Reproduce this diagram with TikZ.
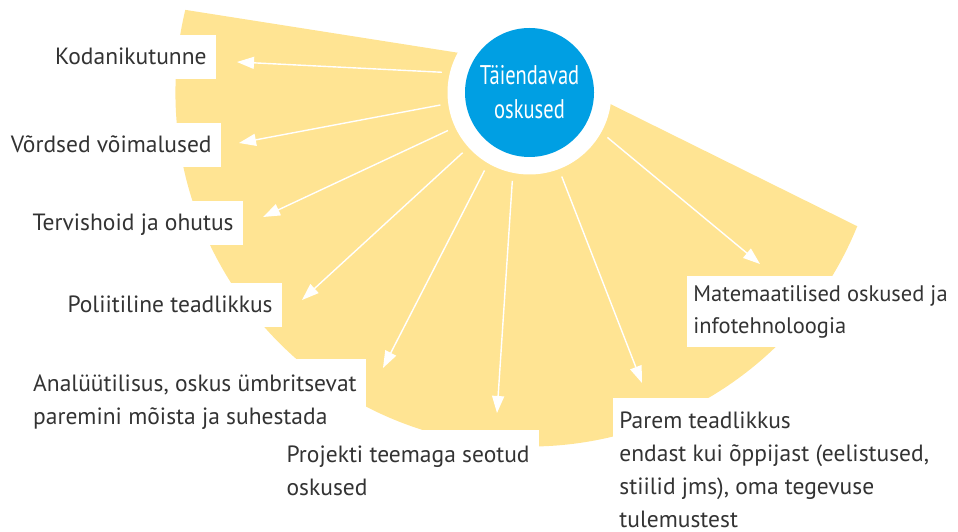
\documentclass[tikz,border=0pt]{standalone}
\usepackage{fontspec}
\setmainfont{PT Sans}
\newfontfamily\titlefont[FakeStretch=0.76]{PT Sans}
\usetikzlibrary{arrows.meta}

\definecolor{fanyellow}{HTML}{FFE493}
\definecolor{hubblue}{HTML}{009FE3}
\definecolor{labelgray}{HTML}{333333}

\tikzset{
  skill/.style={fill=white, text=labelgray, font=\fontsize{11.75}{16.5}\selectfont,
    inner xsep=4.5pt, inner ysep=7.5pt, align=left},
  oneline/.style={skill, inner ysep=4.5pt, text height=10.5pt, text depth=2.5pt},
  spoke/.style={draw=white, line width=0.7pt, -{Triangle[length=8.5pt,width=6pt]}},
}

\begin{document}
\begin{tikzpicture}[x=0.5pt,y=0.5pt]
        \useasboundingbox (0,0) rectangle (958,531);

        % Yellow fan
        \coordinate (hubc) at (529.5,438.5);
        \fill[fanyellow] (529.5,467) -- ([shift={(166.5:354)}]hubc)
            arc[start angle=166.5, end angle=337.8, radius=354] -- cycle;

        % Hub (white ring, blue disc)
        \node[circle, fill=white, minimum size=82pt, inner sep=0pt, outer sep=4pt] (ring) at (hubc) {};
        \node[circle, fill=hubblue, minimum size=64.5pt, inner sep=0pt, text=white, align=center,
            font=\titlefont\fontsize{13.5}{17}\selectfont] (hub) at (hubc) {Täiendavad\\oskused};

        % Labels, left side
        \node[oneline, anchor=south east] (koda) at (216,452) {Kodanikutunne};
        \node[oneline, anchor=south east] (vord) at (221,364) {Võrdsed võimalused};
        \node[oneline, anchor=south east] (tervis) at (243,286) {Tervishoid ja ohutus};
        \node[oneline, anchor=south east] (poliit) at (282,204) {Poliitiline teadlikkus};
        \node[skill, anchor=north east] (analyys) at (366,172) {Analüütilisus, oskus ümbritsevat\\paremini mõista ja suhestada};
        \node[skill, anchor=north east] (projekt) at (539,101) {Projekti teemaga seotud\\oskused};

        % Labels, right side
        \node[skill, anchor=north west, inner xsep=3pt, inner ysep=6.5pt] (parem) at (613,133)
            {Parem teadlikkus\\endast kui õppijast (eelistused,\\stiilid jms), oma tegevuse\\tulemustest};
        \node[skill, anchor=north west, inner xsep=3pt, inner ysep=4.5pt,
            font=\fontsize{11.25}{16}\selectfont] (matem) at (687,255)
            {Matemaatilised oskused ja\\infotehnoloogia};

        % Arrow tips
        \coordinate (kodaTip) at (237,469);
        \coordinate (vordTip) at (239,388);
        \coordinate (tervisTip) at (263,314);
        \coordinate (poliitTip) at (302,231);
        \coordinate (analyysTip) at (383,163);
        \coordinate (projektTip) at (497,118);
        \coordinate (paremTip) at (642,148);
        \coordinate (matemTip) at (760,267);

        % Arrows from the hub
        \draw[spoke] (ring.167) -- (kodaTip);
        \draw[spoke] (ring.188) -- (vordTip);
        \draw[spoke] (ring.205) -- (tervisTip);
        \draw[spoke] (ring.222) -- (poliitTip);
        \draw[spoke] (ring.240) -- (analyysTip);
        \draw[spoke] (ring.259) -- (projektTip);
        \draw[spoke] (ring.291) -- (paremTip);
        \draw[spoke] (ring.330) -- (matemTip);
\end{tikzpicture}
\end{document}
